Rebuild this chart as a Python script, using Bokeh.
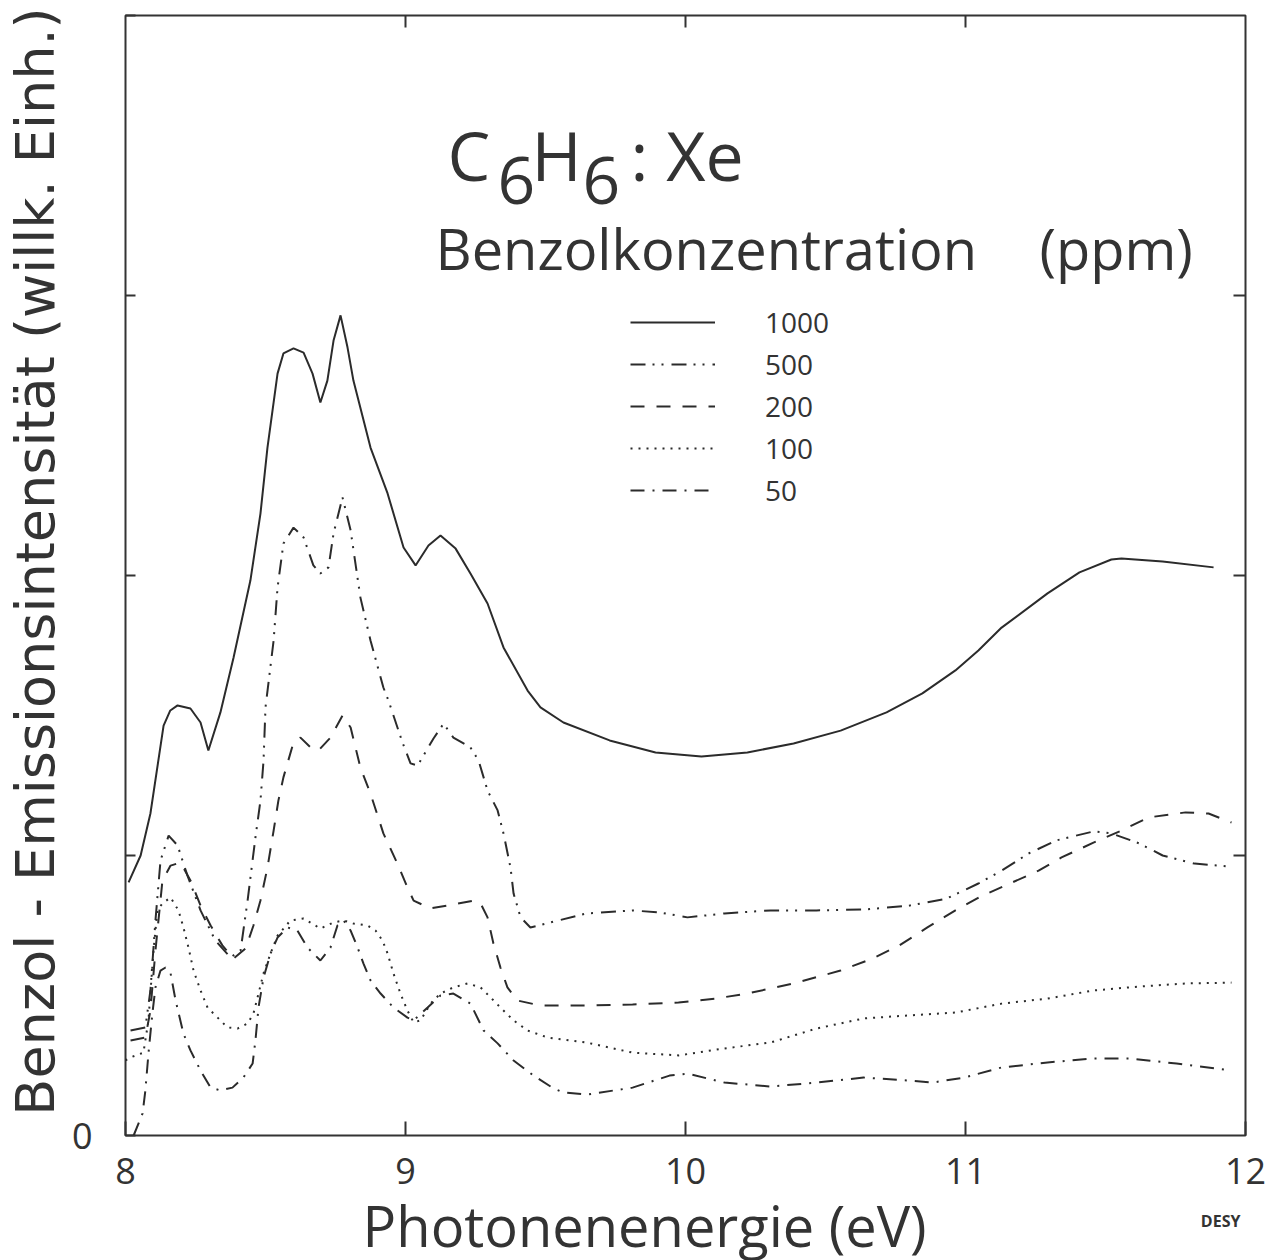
from bokeh.plotting import figure
from bokeh.models import Range1d, LinearAxis, FixedTicker, Label, Legend, LegendItem
from bokeh.embed import file_html
from bokeh.resources import INLINE

# ---------------- data ----------------
x_ticks = [8, 9, 10, 11, 12]
x_tick_labels = ["8", "9", "10", "11", "12"]
y_ticks = [0, 1, 2, 3, 4]
y_tick_labels = ["0", "", "", "", ""]

conc_labels = ["1000", "500", "200", "100", "50"]

e1000 = [8.011, 8.054, 8.089, 8.136, 8.160, 8.186, 8.232, 8.268, 8.296, 8.339, 8.386, 8.446, 8.482,
         8.507, 8.543, 8.564, 8.600, 8.636, 8.668, 8.696, 8.721, 8.743, 8.768, 8.793, 8.814, 8.875,
         8.936, 8.993, 9.036, 9.082, 9.125, 9.179, 9.232, 9.293, 9.350, 9.436, 9.482, 9.564, 9.729,
         9.893, 10.057, 10.221, 10.386, 10.554, 10.718, 10.846, 10.964, 11.046, 11.129, 11.293,
         11.407, 11.521, 11.557, 11.704, 11.886]
i1000 = [0.904, 1.000, 1.150, 1.464, 1.518, 1.536, 1.525, 1.475, 1.375, 1.511, 1.707, 1.982, 2.221,
         2.457, 2.721, 2.793, 2.811, 2.796, 2.721, 2.618, 2.696, 2.839, 2.929, 2.814, 2.696, 2.457,
         2.293, 2.100, 2.036, 2.107, 2.143, 2.096, 2.007, 1.900, 1.743, 1.589, 1.529, 1.475, 1.411,
         1.368, 1.354, 1.368, 1.400, 1.446, 1.511, 1.579, 1.661, 1.732, 1.814, 1.936,
         2.011, 2.057, 2.061, 2.050, 2.029]

e500 = [8.018, 8.071, 8.089, 8.107, 8.125, 8.154, 8.186, 8.221, 8.268, 8.321, 8.375, 8.411, 8.436,
        8.464, 8.482, 8.493, 8.500, 8.529, 8.543, 8.564, 8.600, 8.636, 8.671, 8.696, 8.725, 8.743,
        8.775, 8.804, 8.839, 8.875, 8.921, 8.939, 8.989, 9.018, 9.043, 9.100, 9.136, 9.171, 9.232,
        9.261, 9.293, 9.329, 9.350, 9.375, 9.386, 9.411, 9.446, 9.518, 9.646, 9.811, 9.911, 10.007,
        10.139, 10.304, 10.468, 10.636, 10.800, 10.932, 11.046, 11.129, 11.225, 11.325, 11.457,
        11.521, 11.621, 11.704, 11.818, 11.936]
i500 = [0.375, 0.386, 0.518, 0.768, 0.982, 1.071, 1.036, 0.929, 0.804, 0.696, 0.636, 0.661, 0.839,
        1.064, 1.196, 1.339, 1.529, 1.768, 1.957, 2.114, 2.171, 2.136, 2.036, 2.007, 2.029, 2.150,
        2.279, 2.161, 1.921, 1.768, 1.600, 1.554, 1.404, 1.329, 1.321, 1.418, 1.471, 1.421, 1.386,
        1.339, 1.232, 1.161, 1.079, 0.957, 0.864, 0.779, 0.743, 0.761, 0.793, 0.804, 0.796, 0.779,
        0.793, 0.804, 0.804, 0.807, 0.821, 0.846, 0.900, 0.946, 1.007, 1.054, 1.086,
        1.079, 1.043, 1.000, 0.971, 0.961]

e200 = [8.018, 8.071, 8.089, 8.107, 8.132, 8.161, 8.196, 8.232, 8.268, 8.304, 8.346, 8.386, 8.429,
        8.457, 8.482, 8.507, 8.529, 8.546, 8.564, 8.600, 8.625, 8.661, 8.689, 8.732, 8.775, 8.804,
        8.839, 8.875, 8.921, 8.971, 9.007, 9.029, 9.089, 9.150, 9.243, 9.268, 9.293, 9.314, 9.339,
        9.364, 9.400, 9.482, 9.646, 9.811, 9.975, 10.107, 10.221, 10.386, 10.554, 10.668, 10.764,
        10.864, 10.964, 11.061, 11.143, 11.261, 11.343, 11.457, 11.557, 11.654, 11.786, 11.868, 11.950]
i200 = [0.339, 0.350, 0.446, 0.661, 0.911, 0.964, 0.975, 0.911, 0.821, 0.750, 0.679, 0.632, 0.668,
        0.750, 0.839, 0.957, 1.089, 1.196, 1.279, 1.404, 1.421, 1.386, 1.375, 1.421, 1.500, 1.457,
        1.314, 1.221, 1.079, 0.971, 0.886, 0.839, 0.811, 0.821, 0.839, 0.829, 0.779, 0.686, 0.600,
        0.529, 0.482, 0.464, 0.464, 0.468, 0.475, 0.489, 0.507, 0.543, 0.589, 0.632, 0.679,
        0.743, 0.804, 0.857, 0.893, 0.946, 0.993, 1.046, 1.089, 1.136, 1.154, 1.150, 1.118]

e100 = [8.000, 8.018, 8.064, 8.082, 8.100, 8.114, 8.132, 8.161, 8.189, 8.207, 8.225, 8.243, 8.268,
        8.293, 8.329, 8.364, 8.400, 8.436, 8.457, 8.475, 8.493, 8.518, 8.543, 8.589, 8.636, 8.696,
        8.743, 8.779, 8.814, 8.864, 8.893, 8.918, 8.936, 8.957, 8.982, 9.007, 9.029, 9.054, 9.089,
        9.125, 9.171, 9.221, 9.268, 9.304, 9.339, 9.386, 9.436, 9.507, 9.646, 9.811, 9.975, 10.139,
        10.304, 10.468, 10.636, 10.800, 10.964, 11.129, 11.293, 11.457, 11.621, 11.786, 11.950]
i100 = [0.268, 0.279, 0.296, 0.411, 0.661, 0.804, 0.829, 0.850, 0.804, 0.743, 0.671, 0.589, 0.518,
        0.457, 0.421, 0.386, 0.382, 0.400, 0.436, 0.507, 0.579, 0.650, 0.714, 0.768, 0.775, 0.739,
        0.761, 0.768, 0.757, 0.750, 0.732, 0.696, 0.650, 0.579, 0.507, 0.446, 0.404, 0.411, 0.471,
        0.507, 0.529, 0.543, 0.529, 0.493, 0.457, 0.411, 0.375, 0.350, 0.332, 0.296, 0.286, 0.311,
        0.332, 0.382, 0.418, 0.429, 0.439, 0.471, 0.489, 0.518, 0.532, 0.543, 0.546]

e50 = [8.029, 8.061, 8.071, 8.082, 8.096, 8.107, 8.125, 8.143, 8.161, 8.179, 8.207, 8.232, 8.268,
       8.304, 8.339, 8.382, 8.421, 8.454, 8.464, 8.475, 8.493, 8.518, 8.543, 8.579, 8.614, 8.650,
       8.696, 8.732, 8.757, 8.779, 8.804, 8.829, 8.850, 8.875, 8.911, 8.957, 9.007, 9.029, 9.079,
       9.125, 9.171, 9.232, 9.279, 9.329, 9.386, 9.457, 9.529, 9.564, 9.646, 9.811, 9.943, 10.007,
       10.139, 10.304, 10.468, 10.636, 10.800, 10.882, 10.996, 11.129, 11.293, 11.457, 11.589,
       11.754, 11.950]
i50 = [0.000, 0.079, 0.161, 0.293, 0.436, 0.529, 0.589, 0.600, 0.579, 0.482, 0.364, 0.304, 0.232,
       0.171, 0.161, 0.171, 0.207, 0.257, 0.339, 0.457, 0.564, 0.650, 0.707, 0.743, 0.732, 0.671,
       0.625, 0.671, 0.750, 0.768, 0.732, 0.671, 0.614, 0.554, 0.507, 0.457, 0.421, 0.411, 0.457,
       0.500, 0.507, 0.471, 0.375, 0.329, 0.268, 0.214, 0.168, 0.154, 0.146, 0.171, 0.214, 0.221,
       0.189, 0.175, 0.189, 0.207, 0.196, 0.189, 0.207, 0.243, 0.261, 0.275, 0.275,
       0.257, 0.232]

# ---------------- styling ----------------
FONT = "Open Sans"
YFONT = "DejaVu Sans"
INK = "#2b2b2b"
TXT = "#333333"

p = figure(frame_width=1120, frame_height=1120, x_range=Range1d(8, 12), y_range=Range1d(0, 4),
           output_backend="svg", toolbar_location=None,
           min_border_left=125, min_border_right=34, min_border_top=15, min_border_bottom=125,
           background_fill_color="white", border_fill_color="white")
p.grid.visible = False
p.outline_line_color = TXT
p.outline_line_width = 2

# bottom axis
xa = p.xaxis[0]
xa.ticker = FixedTicker(ticks=x_ticks)
xa.major_label_overrides = {t: l for t, l in zip(x_ticks, x_tick_labels)}
xa.major_tick_in = 14
xa.major_tick_out = 0
xa.minor_tick_line_color = None
xa.axis_line_color = None
xa.major_tick_line_color = TXT
xa.major_tick_line_width = 2
xa.major_label_standoff = 22
xa.major_label_text_font = FONT
xa.major_label_text_font_size = "36px"
xa.major_label_text_color = TXT

# left axis
ya = p.yaxis[0]
ya.ticker = FixedTicker(ticks=y_ticks)
ya.major_label_overrides = {t: l for t, l in zip(y_ticks, y_tick_labels)}
ya.major_tick_in = 10
ya.major_tick_out = 0
ya.minor_tick_line_color = None
ya.axis_line_color = None
ya.major_tick_line_color = TXT
ya.major_tick_line_width = 2
ya.major_label_standoff = 33
ya.major_label_text_font = FONT
ya.major_label_text_font_size = "36px"
ya.major_label_text_color = TXT

# top and right axes: inward ticks only
top = LinearAxis(ticker=FixedTicker(ticks=x_ticks[1:-1]),
                 major_label_overrides={t: "" for t in x_ticks[1:-1]},
                 major_tick_in=12, major_tick_out=0, minor_tick_line_color=None,
                 axis_line_color=None, major_tick_line_color=TXT, major_tick_line_width=2,
                 major_label_standoff=0, major_label_text_font_size="1px")
p.add_layout(top, "above")
right = LinearAxis(ticker=FixedTicker(ticks=y_ticks[1:-1]),
                   major_label_overrides={t: "" for t in y_ticks[1:-1]},
                   major_tick_in=12, major_tick_out=0, minor_tick_line_color=None,
                   axis_line_color=None, major_tick_line_color=TXT, major_tick_line_width=2,
                   major_label_standoff=0, major_label_text_font_size="1px")
p.add_layout(right, "right")

# ---------------- curves ----------------
series = [
    (e1000, i1000, "solid"),
    (e500, i500, "15 7 2 7 2 8"),
    (e200, i200, "14 12"),
    (e100, i100, "2 6"),
    (e50, i50, "14 8 2 8"),
]
items = []
for (ex, iy, dash), lab in zip(series, conc_labels):
    r = p.line(ex, iy, line_color=INK, line_width=2, line_dash=dash)
    items.append(LegendItem(label=lab, renderers=[r]))

legend = Legend(items=items, location=(505, 626), glyph_width=85, glyph_height=34,
                label_height=34, label_standoff=50, spacing=4, padding=0, margin=0,
                border_line_alpha=0, background_fill_alpha=0,
                label_text_font=FONT, label_text_font_size="28px", label_text_color=TXT)
p.add_layout(legend)

# ---------------- texts ----------------
def lab(x, y, text, size, **kw):
    opts = dict(x=x, y=y, text=text, text_font=FONT, text_font_size=size,
                text_color=TXT, text_baseline="alphabetic", text_align="left")
    opts.update(kw)
    return Label(**opts)

# formula C6H6 : Xe
p.add_layout(lab(9.150, 3.504, "C", "68px"))
p.add_layout(lab(9.329, 3.411, "6", "66px"))
p.add_layout(lab(9.450, 3.504, "H", "68px"))
p.add_layout(lab(9.632, 3.411, "6", "66px"))
p.add_layout(lab(9.804, 3.504, ": Xe", "68px"))

p.add_layout(lab(9.107, 3.168, "Benzolkonzentration", "56px"))
p.add_layout(lab(11.264, 3.168, "(ppm)", "56px"))

# axis titles and lab mark (kept in the side panel so they are not clipped by the frame)
p.add_layout(lab(9.854, -0.318, "Photonenenergie (eV)", "56px", text_align="center"), "below")
p.add_layout(lab(7.679, 2.050, "Benzol - Emissionsintensität (willk. Einh.)", "54px",
                 text_align="center", angle=1.5707963, text_font=YFONT), "below")
p.add_layout(lab(11.982, -0.307, "DESY", "16px", text_align="right",
                 text_font_style="bold"), "below")

open("out.html", "w").write(file_html(p, INLINE))
